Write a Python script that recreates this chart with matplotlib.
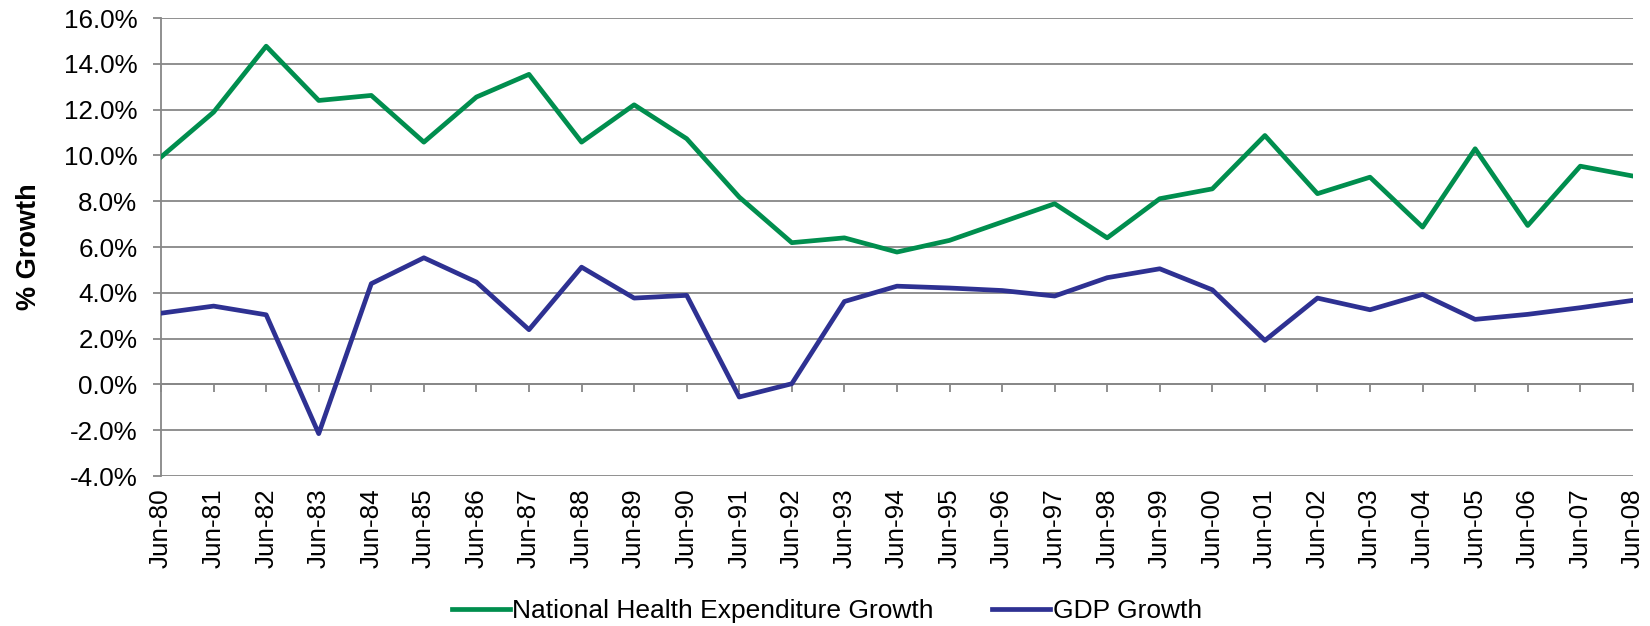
import numpy as np
import matplotlib
matplotlib.use("Agg")
import matplotlib.pyplot as plt
from matplotlib.ticker import FuncFormatter

plt.rcParams['font.family'] = ['Liberation Sans', 'DejaVu Sans']

years = ['80', '81', '82', '83', '84', '85', '86', '87', '88', '89', '90',
         '91', '92', '93', '94', '95', '96', '97', '98', '99', '00',
         '01', '02', '03', '04', '05', '06', '07', '08']
labels = ['Jun-' + y for y in years]

nhe_growth = [9.93, 11.89, 14.77, 12.40, 12.62, 10.58, 12.55, 13.54, 10.58, 12.21, 10.73,
              8.18, 6.19, 6.40, 5.78, 6.29, 7.09, 7.89, 6.40, 8.11, 8.54,
              10.87, 8.33, 9.05, 6.87, 10.29, 6.94, 9.53, 9.10]
gdp_growth = [3.11, 3.42, 3.04, -2.15, 4.40, 5.53, 4.47, 2.39, 5.12, 3.77, 3.89,
              -0.55, 0.03, 3.62, 4.29, 4.21, 4.10, 3.86, 4.66, 5.05, 4.13,
              1.92, 3.77, 3.26, 3.93, 2.84, 3.06, 3.35, 3.67]

green = '#008E4E'
blue = '#2E3192'
grey = '#878787'
fs = 18.7

fig = plt.figure(figsize=(16.5, 6.26), dpi=100)
ax = fig.add_axes([0.0976, 0.2396, 0.892, 0.7316])

x = np.arange(len(labels))
ax.plot(x, nhe_growth, color=green, lw=3.4, label='National Health Expenditure Growth', zorder=3)
ax.plot(x, gdp_growth, color=blue, lw=3.4, label='GDP Growth', zorder=3)

ax.set_xlim(0, len(labels) - 1)
ax.set_ylim(-4, 16)
ax.set_yticks(np.arange(-4, 17, 2))
ax.yaxis.set_major_formatter(FuncFormatter(lambda v, p: f'{v:.1f}%'))
ax.grid(axis='y', color=grey, lw=1.3)
ax.set_axisbelow(True)

for s in ['top', 'right']:
    ax.spines[s].set_visible(False)
ax.spines['left'].set_color(grey)
ax.spines['left'].set_linewidth(1.3)
ax.spines['bottom'].set_position(('data', 0))
ax.spines['bottom'].set_color(grey)
ax.spines['bottom'].set_linewidth(1.3)

ax.tick_params(axis='y', length=6, width=1.3, color=grey, pad=11, labelsize=fs)
ax.set_xticks(x)
ax.tick_params(axis='x', length=6, width=1.3, color=grey, labelbottom=False)

sec = ax.secondary_xaxis('bottom')
sec.set_xticks(x)
sec.set_xticklabels(labels, rotation=90, fontsize=fs)
sec.tick_params(length=0, pad=9)
sec.spines['bottom'].set_visible(False)

ax.set_ylabel('% Growth', fontsize=19.5, fontweight='bold', labelpad=16)

fig.legend(loc='center', bbox_to_anchor=(0.501, 0.024), ncol=2, frameon=False,
           fontsize=19, handlelength=2.2, handletextpad=0.1, columnspacing=2.2)

plt.savefig('out.png', dpi=100)
